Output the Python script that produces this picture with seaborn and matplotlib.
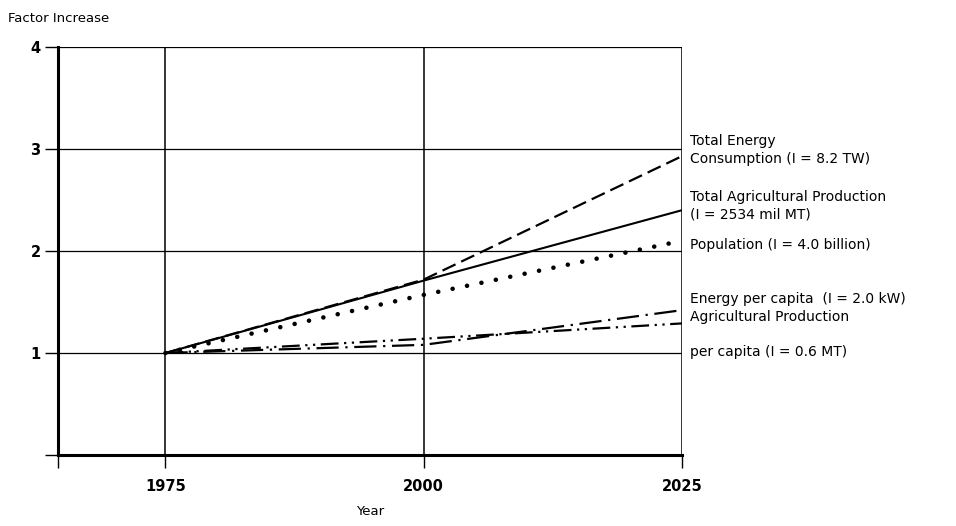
import matplotlib
matplotlib.use("Agg")
import matplotlib.pyplot as plt
import seaborn as sns
import pandas as pd

years = [1975, 2000, 2025]
total_energy = [1.0, 1.72, 2.93]
total_agri = [1.0, 1.71, 2.40]
population = [1.0, 1.57, 2.10]
energy_per_capita = [1.0, 1.08, 1.42]
agri_per_capita = [1.0, 1.14, 1.29]

series_names = ["Total Energy", "Total Agri", "Population",
                "Energy per capita", "Agri per capita"]
series_values = [total_energy, total_agri, population,
                 energy_per_capita, agri_per_capita]

y_ticks = [1, 2, 3, 4]
x_ticks = [1975, 2000, 2025]

# right-hand annotation lines (text, vertical pixel position)
label_lines = [
    ("Total Energy", 141),
    ("Consumption (I = 8.2 TW)", 159),
    ("Total Agricultural Production", 197),
    ("(I = 2534 mil MT)", 214),
    ("Population (I = 4.0 billion)", 245),
    ("Energy per capita  (I = 2.0 kW)", 299),
    ("Agricultural Production", 317),
    ("per capita (I = 0.6 MT)", 352),
]

rows = []
for name, vals in zip(series_names, series_values):
    for yr, v in zip(years, vals):
        rows.append({"Year": yr, "Factor": v, "Series": name})
df = pd.DataFrame(rows)

sns.set_theme(style="white")
plt.rcParams["font.family"] = ["DejaVu Sans"]
plt.rcParams["text.color"] = "black"
plt.rcParams["axes.labelcolor"] = "black"
plt.rcParams["xtick.color"] = "black"
plt.rcParams["ytick.color"] = "black"

W, H = 956, 526
fig = plt.figure(figsize=(W / 100, H / 100), dpi=100)
ax = fig.add_axes([58 / W, 1 - 455 / H, (682 - 58) / W, (455 - 47) / H])

styles = {
    "Total Agri": dict(linestyle="-", linewidth=1.5),
    "Total Energy": dict(linestyle=(0, (6.5, 2.8)), linewidth=1.6),
    "Population": dict(linestyle=(0, (0.01, 3.2)), linewidth=3.3,
                       dash_capstyle="round"),
    "Energy per capita": dict(linestyle=(0, (10, 3, 1, 3)), linewidth=1.6),
    "Agri per capita": dict(linestyle=(0, (8, 2.5, 1, 2.5, 1, 2.5)), linewidth=1.6),
}

for name in ["Total Agri", "Total Energy", "Population",
             "Energy per capita", "Agri per capita"]:
    sub = df[df["Series"] == name]
    sns.lineplot(data=sub, x="Year", y="Factor", ax=ax, color="black",
                 legend=False, **styles[name])

x_left = 1964.6
ax.set_xlim(x_left, 2025)
ax.set_ylim(0, 4)

# grid lines
for y in y_ticks:
    ax.axhline(y, color="black", linewidth=0.9, zorder=0)
for x in x_ticks:
    ax.axvline(x, color="black", linewidth=1.1, zorder=0)

for s in ["top", "right"]:
    ax.spines[s].set_visible(False)
for s in ["left", "bottom"]:
    ax.spines[s].set_linewidth(2.2)
    ax.spines[s].set_color("black")

ax.set_yticks([0] + y_ticks)
ax.set_yticklabels([""] + [str(v) for v in y_ticks], fontsize=10.5, fontweight="bold")
ax.set_xticks([x_left] + x_ticks)
ax.set_xticklabels([""] + [str(v) for v in x_ticks], fontsize=10.5, fontweight="bold")
ax.tick_params(axis="y", left=True, direction="out", length=9.5, width=1.0,
               color="black", pad=3, labelcolor="black")
ax.tick_params(axis="x", bottom=True, direction="out", length=9, width=1.0,
               color="black", pad=8, labelcolor="black")

ax.set_xlabel("Year", fontsize=9.5, labelpad=8, color="black")
ax.set_ylabel("")
fig.text(8 / W, 1 - 18 / H, "Factor Increase", fontsize=9.5,
         va="center", ha="left", color="black")

for text, ypix in label_lines:
    fig.text(690 / W, 1 - ypix / H, text, fontsize=10,
             va="center", ha="left", color="black")

fig.savefig("out.png", dpi=100)
